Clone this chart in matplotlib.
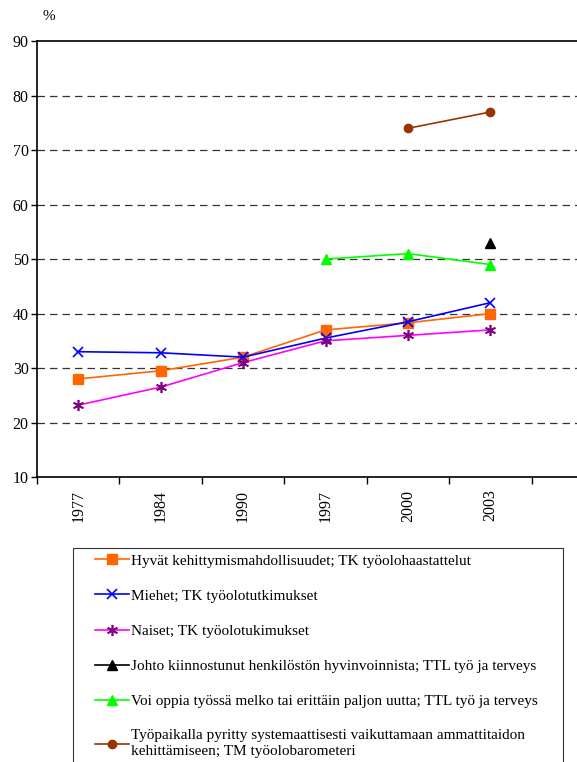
import numpy as np
import matplotlib
matplotlib.use("Agg")
import matplotlib.pyplot as plt
from matplotlib import rcParams
from matplotlib.legend_handler import HandlerLine2D

rcParams.update({
    "font.family": "serif",
    "font.serif": ["Liberation Serif", "DejaVu Serif"],
    "font.size": 10,
})

years = ["1977", "1984", "1990", "1997", "2000", "2003"]

hyvat = [28.0, 29.5, 32.0, 37.0, 38.3, 40.0]
miehet = [33.0, 32.8, 32.0, 35.5, 38.5, 42.0]
naiset = [23.2, 26.5, 31.0, 35.0, 36.0, 37.0]
johto = [np.nan, np.nan, np.nan, np.nan, np.nan, 53.0]
oppia = [np.nan, np.nan, np.nan, 50.0, 51.0, 49.0]
tyopaikka = [np.nan, np.nan, np.nan, np.nan, 74.0, 77.0]

labels = [
    "Hyvät kehittymismahdollisuudet; TK työolohaastattelut",
    "Miehet; TK työolotutkimukset",
    "Naiset; TK työolotukimukset",
    "Johto kiinnostunut henkilöstön hyvinvoinnista; TTL työ ja terveys",
    "Voi oppia työssä melko tai erittäin paljon uutta; TTL työ ja terveys",
    "Työpaikalla pyritty systemaattisesti vaikuttamaan ammattitaidon\nkehittämiseen; TM työolobarometeri",
]


class IndentedLine(HandlerLine2D):
    """Line handle pushed right inside its slot, leaving blank room on the left."""

    def create_artists(self, legend, orig_handle, xdescent, ydescent,
                       width, height, fontsize, trans):
        shift = 0.31 * width
        return super().create_artists(legend, orig_handle, xdescent - shift,
                                      ydescent, width - shift, height,
                                      fontsize, trans)


fig = plt.figure(figsize=(5.77, 7.62), dpi=100)
ax = fig.add_axes([0.0641, 0.374, 0.9359, 0.572])

x = np.arange(len(years))
h1, = ax.plot(x, hyvat, color="#FF6600", lw=1.2, marker="s", ms=7,
              mfc="#FF6600", mec="#FF6600")
h2, = ax.plot(x, miehet, color="#0000FF", lw=1.2, marker="x", ms=7, mew=1.2)
h3, = ax.plot(x, naiset, color="#FF00FF", lw=1.2, marker=(6, 2, 0), ms=8,
              mec="#800080", mew=1.2)
h4, = ax.plot(x, johto, color="black", lw=1.2, marker="^", ms=7)
h5, = ax.plot(x, oppia, color="#00FF00", lw=1.2, marker="^", ms=7)
h6, = ax.plot(x, tyopaikka, color="#993300", lw=1.2, marker="o", ms=6)

ax.set_ylim(10, 90)
ax.set_xlim(-0.5, 6.05)
ax.set_yticks(range(10, 91, 10))
for y in range(20, 90, 10):
    ax.axhline(y, color="#333333", lw=0.9, ls=(0, (6, 4)), zorder=0)

# tick marks sit on category boundaries, labels on centres
ax.set_xticks(np.arange(-0.5, 5.6, 1.0))
ax.set_xticklabels([])
ax.set_xticks(x, minor=True)
ax.set_xticklabels(years, minor=True, rotation=90, fontsize=11.5)
ax.tick_params(axis="x", which="major", direction="out", length=5, width=1)
ax.tick_params(axis="x", which="minor", length=0, pad=9)
ax.tick_params(axis="y", direction="out", length=4, width=1, labelsize=11.5, pad=2)

ax.spines["right"].set_visible(False)
for s in ("left", "bottom", "top"):
    ax.spines[s].set_linewidth(1.2)

fig.text(0.073, 0.978, "%", fontsize=11, ha="left", va="center")

leg = fig.legend([h1, h2, h3, h4, h5, h6], labels,
                 loc="upper left", bbox_to_anchor=(0.1265, 0.281, 0.849, 0),
                 mode="expand", frameon=True, fancybox=False,
                 edgecolor="black", fontsize=11, labelspacing=1.4,
                 handlelength=3.27, handletextpad=0.15, borderpad=0.4,
                 borderaxespad=0,
                 handler_map={matplotlib.lines.Line2D: IndentedLine()})
leg.get_frame().set_linewidth(0.8)
for t in leg.get_texts():
    t.set_linespacing(1.3)

fig.savefig("out.png", dpi=100)
